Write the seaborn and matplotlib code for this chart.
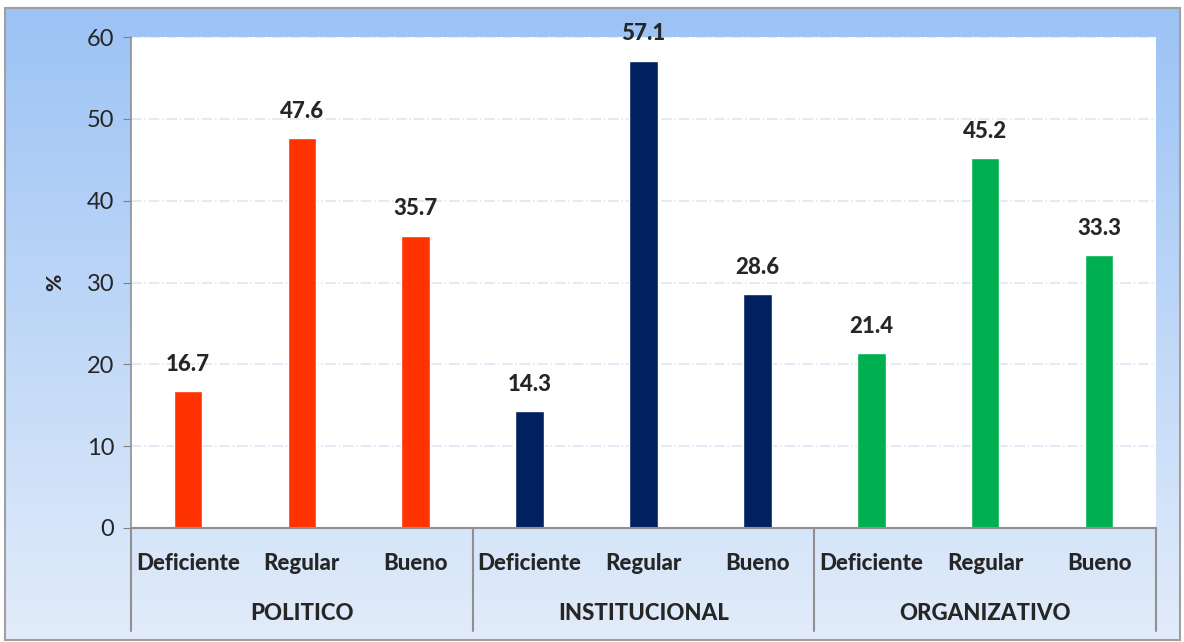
import numpy as np
import pandas as pd
import matplotlib
matplotlib.use("Agg")
import matplotlib.pyplot as plt
import seaborn as sns

groups = ["POLITICO", "INSTITUCIONAL", "ORGANIZATIVO"]
levels = ["Deficiente", "Regular", "Bueno"]
politico = [16.7, 47.6, 35.7]
institucional = [14.3, 57.1, 28.6]
organizativo = [21.4, 45.2, 33.3]
colors = ["#FF3300", "#002060", "#00B050"]

rows = []
for g, vals in zip(groups, [politico, institucional, organizativo]):
    for lv, v in zip(levels, vals):
        rows.append({"key": g + "|" + lv, "grupo": g, "nivel": lv, "pct": v})
df = pd.DataFrame(rows)

sns.set_style("white")
plt.rcParams["font.family"] = ["Lato", "DejaVu Sans"]
BOLD = 900

W, H = 1184, 642
fig = plt.figure(figsize=(W / 100, H / 100), dpi=100)

# gradient background frame
bg = fig.add_axes([5 / W, 1 - 640 / H, 1175 / W, 632 / H], zorder=0)
grad = np.linspace(0, 1, 256)[:, None]
top = np.array([0x9C, 0xC3, 0xF5]) / 255
bot = np.array([0xE2, 0xEC, 0xFA]) / 255
img = top[None, None, :] * (1 - grad[:, :, None]) + bot[None, None, :] * grad[:, :, None]
bg.imshow(img, aspect="auto", extent=[0, 1, 0, 1])
bg.set_xticks([])
bg.set_yticks([])
for s in bg.spines.values():
    s.set_color("#A0A0A0")
    s.set_linewidth(1.5)

ax = fig.add_axes([131 / W, 1 - 528 / H, 1025 / W, 491 / H], zorder=1)
ax.set_facecolor("white")
sns.barplot(data=df, x="key", y="pct", hue="grupo", palette=colors,
            dodge=False, width=0.25, legend=False, ax=ax, saturation=1)
ax.set_ylim(0, 60)
ax.set_xlim(-0.5, 8.5)
ax.set_yticks(range(0, 61, 10))
ax.tick_params(axis="y", labelsize=17, length=6, color="#808080", direction="out", pad=6, left=True)
ax.tick_params(axis="x", length=0, labelbottom=False)
for y in range(10, 61, 10):
    ax.axhline(y, color="#DCE8F7", lw=1.2, ls="-.", zorder=0)
for name in ["top", "right"]:
    ax.spines[name].set_visible(False)
ax.spines["left"].set_color("#909090")
ax.spines["bottom"].set_color("#909090")
ax.spines["left"].set_linewidth(1.2)
ax.spines["bottom"].set_linewidth(1.5)
ax.set_xlabel("")
ax.set_ylabel("%", fontsize=15, fontweight=BOLD)
ax.yaxis.set_label_coords(-67 / 1025, 0.5)

for i, v in enumerate(df["pct"]):
    ax.text(i, v + 2.0, f"{v:.1f}", ha="center", va="bottom", fontsize=16, fontweight=BOLD)

# category labels and group separators
trans = ax.get_xaxis_transform()
for i, lv in enumerate(df["nivel"]):
    ax.text(i, -35 / 491, lv, transform=trans, ha="center", va="center",
            fontsize=16, fontweight=BOLD, clip_on=False)
for j, g in enumerate(groups):
    ax.text(3 * j + 1, -86 / 491, g, transform=trans, ha="center", va="center",
            fontsize=16, fontweight=BOLD, clip_on=False)
for xs in [-0.5, 2.5, 5.5, 8.5]:
    ax.plot([xs, xs], [0, -103 / 491], transform=trans, color="#909090", lw=1.5, clip_on=False)

fig.savefig("out.png", dpi=100)
